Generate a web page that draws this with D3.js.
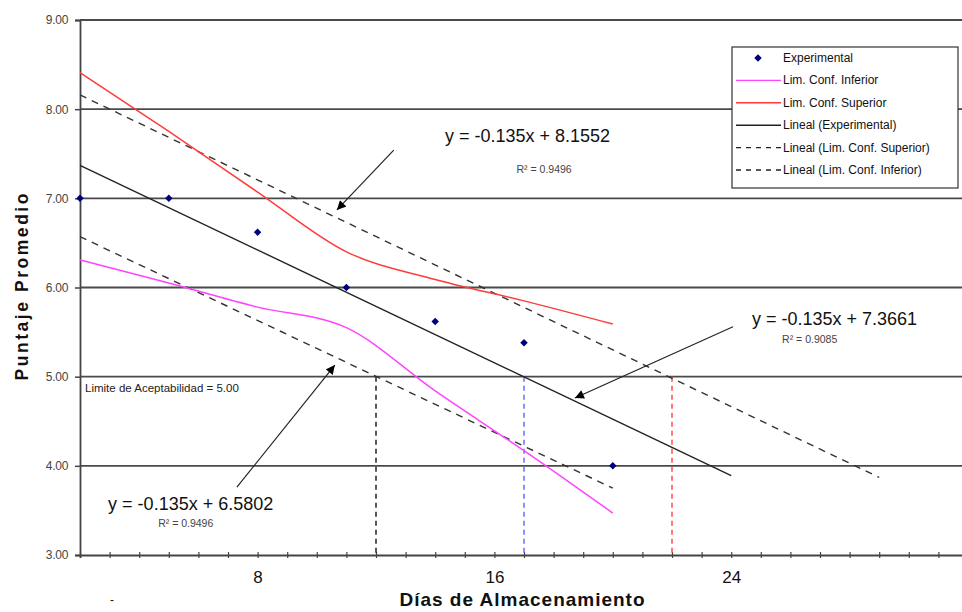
<!DOCTYPE html>
<html><head><meta charset="utf-8">
<script src="https://cdn.jsdelivr.net/npm/d3@7"></script>
<style>
html,body{margin:0;padding:0;background:#fff;overflow:hidden}
text{font-family:"Liberation Sans",Arial,sans-serif}
</style></head>
<body>
<svg id="c" width="962" height="612"></svg>
<script>
// ---- data ----
const days = [2, 5, 8, 11, 14, 17, 20];
const experimental = [7.00, 7.00, 6.62, 6.00, 5.62, 5.38, 4.00];
const limInferior = [6.31, 6.05, 5.78, 5.55, 4.84, 4.17, 3.47];
const limSuperior = [8.41, 7.75, 7.07, 6.40, 6.09, 5.85, 5.59];
// trend lines: [x0, y0, x1, y1]
const trendExperimental = [2, 7.37, 24, 3.89];
const trendSuperior = [2, 8.16, 29, 3.87];
const trendInferior = [2, 6.57, 20, 3.75];
// acceptance limit crossings (days)
const limitValue = 5.0;
const crossInferior = 12, crossExperimental = 17, crossSuperior = 22;
const yTicks = [3, 4, 5, 6, 7, 8, 9];
const xMajorTicks = [8, 16, 24];
const legendLabels = ["Experimental", "Lim. Conf. Inferior", "Lim. Conf. Superior",
  "Lineal (Experimental)", "Lineal (Lim. Conf. Superior)", "Lineal (Lim. Conf. Inferior)"];
const equations = [
  {eq: "y = -0.135x + 8.1552", r2: "R² = 0.9496", ex: 14.33, ey: 7.632, rx: 17.68, ry: 7.284, rAnchor: "middle", from: [12.6, 7.54], to: [10.68, 6.87]},
  {eq: "y = -0.135x + 7.3661", r2: "R² = 0.9085", ex: 24.70, ey: 5.580, rx: 25.72, ry: 5.378, rAnchor: "start", from: [24.06, 5.56], to: [18.72, 4.76]},
  {eq: "y = -0.135x + 6.5802", r2: "R² = 0.9496", ex: 2.95, ey: 3.505, rx: 4.64, ry: 3.314, rAnchor: "start", from: [7.30, 3.76], to: [10.61, 5.13]}
];
const limitLabel = "Limite de Aceptabilidad = 5.00";
const xTitle = "Días de Almacenamiento";
const yTitle = "Puntaje Promedio";

// ---- chart ----
const svg = d3.select("#c");
const x = d3.scaleLinear().domain([2, 32]).range([80, 968]);
const y = d3.scaleLinear().domain([3, 9]).range([555, 20]);

svg.append("defs").append("marker")
  .attr("id", "ah").attr("viewBox", "0 0 10 10").attr("refX", 10).attr("refY", 5)
  .attr("markerWidth", 11).attr("markerHeight", 9).attr("markerUnits", "userSpaceOnUse")
  .attr("orient", "auto")
  .append("path").attr("d", "M0,0 L10,5 L0,10 Z").attr("fill", "#000");

// gridlines
svg.append("g").selectAll("line").data(yTicks.filter(d => d > 3)).join("line")
  .attr("x1", x(2)).attr("x2", 962).attr("y1", d => y(d)).attr("y2", d => y(d))
  .attr("stroke", "#4a4a4a").attr("stroke-width", 1.8);

// y axis
const yAxis = d3.axisLeft(y).tickValues(yTicks).tickFormat(d3.format(".2f")).tickSize(5).tickPadding(7);
const gy = svg.append("g").attr("transform", `translate(${x(2)},0)`).call(yAxis);
gy.select(".domain").attr("stroke", "#444").attr("stroke-width", 1.8);
gy.selectAll(".tick line").attr("stroke", "#444").attr("stroke-width", 1.5);
gy.selectAll("text").attr("font-size", 12).attr("fill", "#444").attr("font-family", "Liberation Sans, Arial").style("letter-spacing", "-0.3px");

// x axis
const xAxisMinor = d3.axisBottom(x).tickValues(d3.range(2, 33)).tickFormat("").tickSize(3);
const gx = svg.append("g").attr("transform", `translate(0,${y(3)})`).call(xAxisMinor);
gx.select(".domain").attr("stroke", "#444").attr("stroke-width", 1.8);
gx.selectAll(".tick line").attr("stroke", "#444").attr("stroke-width", 1.2).attr("y1", -3);
const gx2 = svg.append("g").attr("transform", `translate(0,${y(3)})`)
  .call(d3.axisBottom(x).tickValues(xMajorTicks).tickSize(0).tickPadding(16));
gx2.select(".domain").remove();
gx2.selectAll("text").attr("font-size", 17).attr("fill", "#111").attr("font-family", "Liberation Sans, Arial");

// vertical dashed limit lines
const vlines = [[crossInferior, "#222"], [crossExperimental, "#6b6bff"], [crossSuperior, "#ff4d4d"]];
svg.append("g").selectAll("line").data(vlines).join("line")
  .attr("x1", d => x(d[0])).attr("x2", d => x(d[0]))
  .attr("y1", y(limitValue)).attr("y2", y(3))
  .attr("stroke", d => d[1]).attr("stroke-width", 1.5).attr("stroke-dasharray", "5,4");

// trend lines
const seg = t => svg.append("line").attr("x1", x(t[0])).attr("y1", y(t[1])).attr("x2", x(t[2])).attr("y2", y(t[3]));
seg(trendExperimental).attr("stroke", "#222").attr("stroke-width", 1.4);
seg(trendSuperior).attr("stroke", "#333").attr("stroke-width", 1.4).attr("stroke-dasharray", "7,6");
seg(trendInferior).attr("stroke", "#333").attr("stroke-width", 1.4).attr("stroke-dasharray", "7,6");

// smoothed confidence curves
const line = d3.line().x((d, i) => x(days[i])).y(d => y(d)).curve(d3.curveMonotoneX);
svg.append("path").datum(limSuperior).attr("d", line).attr("fill", "none").attr("stroke", "#ff3b3b").attr("stroke-width", 1.5);
svg.append("path").datum(limInferior).attr("d", line).attr("fill", "none").attr("stroke", "#ff44ff").attr("stroke-width", 1.5);

// experimental points (square rotated 45°)
const diamond = d3.symbol().type(d3.symbolSquare).size(28);
svg.append("g").selectAll("path").data(experimental).join("path")
  .attr("d", diamond).attr("transform", (d, i) => `translate(${x(days[i])},${y(d)}) rotate(45)`)
  .attr("fill", "#00007a");

// limit label
svg.append("text").attr("x", x(2.17)).attr("y", y(4.828)).attr("font-size", 11.5).attr("fill", "#222").text(limitLabel);

// equations and arrows
equations.forEach(e => {
  svg.append("line").attr("x1", x(e.from[0])).attr("y1", y(e.from[1]))
    .attr("x2", x(e.to[0])).attr("y2", y(e.to[1]))
    .attr("stroke", "#222").attr("stroke-width", 1.2).attr("marker-end", "url(#ah)");
  svg.append("text").attr("x", x(e.ex)).attr("y", y(e.ey)).attr("font-size", 18).attr("fill", "#111").text(e.eq);
  svg.append("text").attr("x", x(e.rx)).attr("y", y(e.ry)).attr("font-size", 10.5).attr("fill", "#444")
    .attr("text-anchor", e.rAnchor).text(e.r2);
});

// legend
const lg = svg.append("g").attr("transform", "translate(732,47)");
lg.append("rect").attr("width", 226).attr("height", 141).attr("fill", "#fff").attr("stroke", "#333").attr("stroke-width", 1.2);
legendLabels.forEach((lab, i) => {
  const yy = 11 + i * 22.4;
  if (i === 0) {
    lg.append("path").attr("d", diamond).attr("transform", `translate(26,${yy}) rotate(45)`).attr("fill", "#00007a");
  } else {
    const col = i === 1 ? "#ff44ff" : i === 2 ? "#ff3b3b" : "#222";
    lg.append("line").attr("x1", 4).attr("x2", 49).attr("y1", yy).attr("y2", yy)
      .attr("stroke", col).attr("stroke-width", 1.4).attr("stroke-dasharray", i >= 4 ? "5,5" : null);
  }
  lg.append("text").attr("x", 51).attr("y", yy + 4).attr("font-size", 12).attr("fill", "#111").text(lab);
});

// axis titles
svg.append("text").attr("x", 522).attr("y", 606).attr("text-anchor", "middle")
  .attr("font-family", "DejaVu Sans").attr("font-weight", "bold").attr("font-size", 19)
  .attr("textLength", 245).attr("lengthAdjust", "spacing").attr("fill", "#111").text(xTitle);
svg.append("text").attr("transform", "translate(28,287) rotate(-90)").attr("text-anchor", "middle")
  .attr("font-family", "DejaVu Sans").attr("font-weight", "bold").attr("font-size", 17.5)
  .attr("textLength", 187).attr("lengthAdjust", "spacing").attr("fill", "#111").text(yTitle);
svg.append("text").attr("x", 110).attr("y", 604).attr("font-size", 12).attr("fill", "#111").text("-");
</script>
</body></html>
